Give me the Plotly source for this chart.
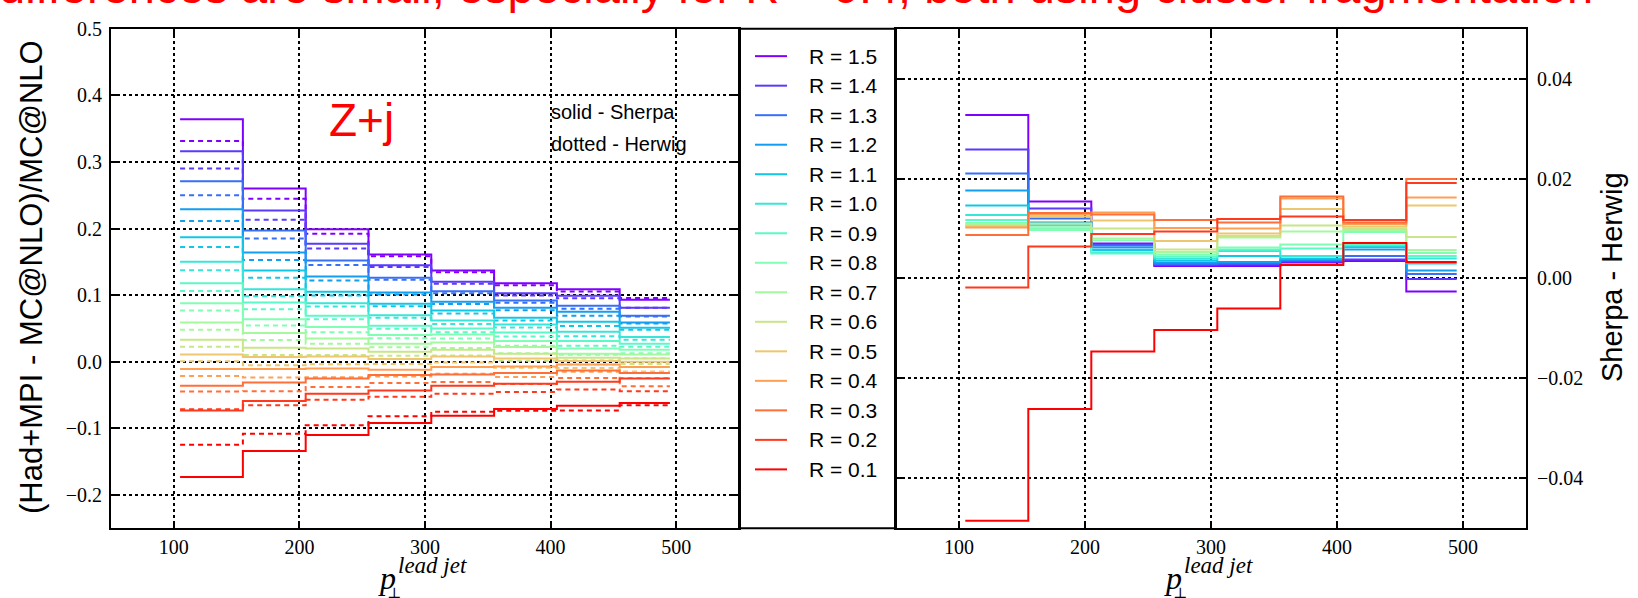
import math
import plotly.graph_objects as go

# ---------------------------------------------------------------- data
bin_edges = [105, 155, 205, 255, 305, 355, 405, 455, 495]
x_ticks = [100, 200, 300, 400, 500]
r_values = [1.5, 1.4, 1.3, 1.2, 1.1, 1.0, 0.9, 0.8, 0.7, 0.6, 0.5, 0.4, 0.3, 0.2, 0.1]

# (Had+MPI - MC@NLO)/MC@NLO for Sherpa, one row per R, one value per pT bin
sherpa_ratio = [
    [0.364, 0.260, 0.199, 0.161, 0.137, 0.118, 0.109, 0.093],
    [0.316, 0.227, 0.177, 0.145, 0.120, 0.103, 0.099, 0.081],
    [0.271, 0.197, 0.152, 0.126, 0.106, 0.092, 0.084, 0.069],
    [0.229, 0.164, 0.128, 0.104, 0.090, 0.081, 0.075, 0.059],
    [0.187, 0.137, 0.105, 0.087, 0.077, 0.066, 0.060, 0.051],
    [0.150, 0.109, 0.088, 0.070, 0.062, 0.056, 0.045, 0.037],
    [0.118, 0.089, 0.069, 0.054, 0.050, 0.044, 0.031, 0.027],
    [0.088, 0.064, 0.052, 0.040, 0.041, 0.031, 0.020, 0.018],
    [0.059, 0.043, 0.035, 0.027, 0.029, 0.022, 0.012, 0.011],
    [0.033, 0.021, 0.020, 0.015, 0.018, 0.012, 0.006, 0.005],
    [0.011, 0.007, 0.008, 0.004, 0.008, 0.005, 0.001, 0.000],
    [-0.011, -0.011, -0.010, -0.012, -0.008, -0.007, -0.004, -0.008],
    [-0.036, -0.031, -0.025, -0.020, -0.019, -0.017, -0.013, -0.017],
    [-0.073, -0.059, -0.048, -0.043, -0.036, -0.033, -0.030, -0.025],
    [-0.173, -0.134, -0.110, -0.092, -0.081, -0.071, -0.066, -0.062],
]

# Sherpa - Herwig difference of the same ratio
sherpa_minus_herwig = [
    [0.0327, 0.0154, 0.0070, 0.0025, 0.0025, 0.0032, 0.0035, -0.0026],
    [0.0258, 0.0140, 0.0068, 0.0027, 0.0028, 0.0034, 0.0038, -0.0001],
    [0.0210, 0.0120, 0.0066, 0.0029, 0.0030, 0.0036, 0.0045, 0.0009],
    [0.0176, 0.0112, 0.0062, 0.0032, 0.0033, 0.0038, 0.0058, 0.0016],
    [0.0146, 0.0110, 0.0057, 0.0036, 0.0045, 0.0040, 0.0063, 0.0030],
    [0.0127, 0.0106, 0.0052, 0.0040, 0.0055, 0.0045, 0.0066, 0.0040],
    [0.0117, 0.0100, 0.0050, 0.0044, 0.0058, 0.0060, 0.0068, 0.0045],
    [0.0111, 0.0097, 0.0076, 0.0048, 0.0062, 0.0068, 0.0093, 0.0051],
    [0.0108, 0.0102, 0.0080, 0.0053, 0.0082, 0.0094, 0.0097, 0.0057],
    [0.0106, 0.0110, 0.0100, 0.0058, 0.0085, 0.0106, 0.0100, 0.0083],
    [0.0104, 0.0124, 0.0116, 0.0075, 0.0090, 0.0139, 0.0104, 0.0146],
    [0.0102, 0.0128, 0.0132, 0.0101, 0.0100, 0.0160, 0.0109, 0.0162],
    [0.0087, 0.0131, 0.0128, 0.0117, 0.0112, 0.0164, 0.0112, 0.0199],
    [-0.0018, 0.0064, 0.0089, 0.0094, 0.0119, 0.0124, 0.0117, 0.0191],
    [-0.0485, -0.0261, -0.0146, -0.0103, -0.0060, 0.0027, 0.0071, 0.0033],
]

# ---------------------------------------------------------------- helpers
W, H = 1638, 598


def px(x):
    return x / W


def py(y):
    return 1 - y / H


def rainbow(t):
    r = min(1.0, abs(2 * t - 0.5))
    g = math.sin(math.pi * t)
    b = math.cos(math.pi * t / 2)
    return "rgb({},{},{})".format(int(round(255 * r)), int(round(255 * g)), int(round(255 * b)))


def steps(vals):
    # repeat the last bin so the hv line closes the final bin
    return list(vals) + [vals[-1]]


n = len(r_values)
colors = [rainbow(i / (n - 1)) for i in range(n)]

fig = go.Figure()

for i, r in enumerate(r_values):
    s = sherpa_ratio[i]
    d = sherpa_minus_herwig[i]
    herwig = [a - b for a, b in zip(s, d)]
    fig.add_trace(go.Scatter(x=bin_edges, y=steps(s), mode="lines", line_shape="hv",
                             line=dict(color=colors[i], width=2),
                             xaxis="x", yaxis="y", showlegend=False))
    fig.add_trace(go.Scatter(x=bin_edges, y=steps(herwig), mode="lines", line_shape="hv",
                             line=dict(color=colors[i], width=2, dash="5px,4px"),
                             xaxis="x", yaxis="y", showlegend=False))
    fig.add_trace(go.Scatter(x=bin_edges, y=steps(d), mode="lines", line_shape="hv",
                             line=dict(color=colors[i], width=2),
                             xaxis="x2", yaxis="y2", showlegend=False))

serif = "Liberation Serif"
sans = "Liberation Sans"

axis_common = dict(
    showline=True, linecolor="black", linewidth=2, mirror="allticks",
    ticks="inside", ticklen=7, tickwidth=1.5, tickcolor="black",
    showgrid=True, gridcolor="black", gridwidth=1.5, griddash="3px,3px",
    zeroline=False, tickfont=dict(family=serif, size=20, color="black"),
)

fig.update_layout(
    width=W, height=H, margin=dict(l=0, r=0, t=0, b=0),
    paper_bgcolor="white", plot_bgcolor="white",
    xaxis=dict(domain=[px(111), px(739)], range=[50, 550], tickvals=x_ticks,
               anchor="y", ticklabelstandoff=0, **axis_common),
    yaxis=dict(domain=[py(527), py(18)], range=[-0.25, 0.5],
               tickvals=[-0.2, -0.1, 0.0, 0.1, 0.2, 0.3, 0.4, 0.5], tickformat=".1f",
               anchor="x", ticklabelstandoff=3, **axis_common),
    xaxis2=dict(domain=[px(896), px(1526)], range=[50, 550], tickvals=x_ticks,
                anchor="y2", ticklabelstandoff=0, **axis_common),
    yaxis2=dict(domain=[py(527), py(18)], range=[-0.05, 0.05],
                tickvals=[-0.04, -0.02, 0.0, 0.02, 0.04], tickformat=".2f",
                side="right", anchor="x2", ticklabelstandoff=5, **axis_common),
)

shapes = []
annotations = []

# legend frame between the two panels
shapes.append(dict(type="rect", xref="paper", yref="paper",
                   x0=px(739), x1=px(896), y0=py(527), y1=py(18),
                   line=dict(color="black", width=2)))

for i, r in enumerate(r_values):
    yy = 46 + i * 30.07
    shapes.append(dict(type="line", xref="paper", yref="paper",
                       x0=px(755), x1=px(787), y0=py(yy), y1=py(yy),
                       line=dict(color=colors[i], width=2)))
    annotations.append(dict(text="R = {:.1f}".format(r), xref="paper", yref="paper",
                            x=px(807), y=py(yy), xanchor="left", yanchor="middle",
                            showarrow=False, font=dict(family=sans, size=21, color="black")))


def note(text, x, y, size, family=sans, color="black", xanchor="center", angle=0):
    annotations.append(dict(text=text, xref="paper", yref="paper", x=px(x), y=py(y),
                            xanchor=xanchor, yanchor="middle", showarrow=False,
                            textangle=angle, font=dict(family=family, size=size, color=color)))


# headline, mostly above the top edge
note("differences are small, especially for R > 0.4, both using cluster fragmentation",
     -3, -25, 47, color="#ff0000", xanchor="left")

note("Z+j", 361, 111, 46, color="#ff0000")
note("solid - Sherpa", 549, 103, 20, xanchor="left")
note("dotted - Herwig", 549, 135, 20, xanchor="left")

note("(Had+MPI - MC@NLO)/MC@NLO", 31, 271, 31, angle=-90)
note("Sherpa - Herwig", 1612, 271, 29, angle=-90)

# x-axis titles: p with perpendicular subscript and "lead jet" superscript
for off in (0, 786):
    note("<i>p</i>", 376 + off, 578, 32, family=serif, xanchor="left")
    note("\u22a5", 385 + off, 593, 15, family="DejaVu Serif", xanchor="left")
    note("<i>lead jet</i>", 396 + off, 565, 23, family=serif, xanchor="left")

fig.update_layout(shapes=shapes, annotations=annotations)

fig.write_html("out.html")
